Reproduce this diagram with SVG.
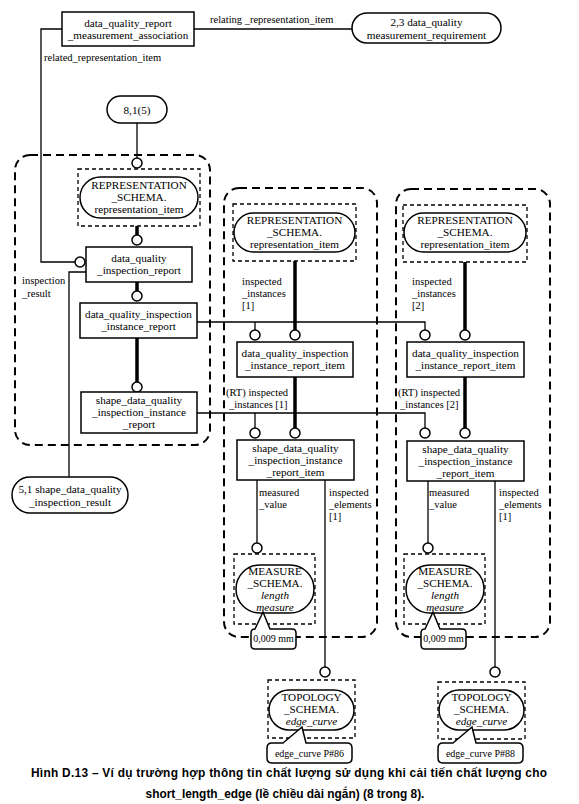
<svg xmlns="http://www.w3.org/2000/svg" width="579" height="804" viewBox="0 0 579 804">
<style>
text{font-family:"Liberation Serif","Times New Roman",serif;fill:#000}
.n{font-size:11.2px;text-anchor:middle}
.l{font-size:10.5px}
.s{font-size:10px;text-anchor:middle}
.i{font-style:italic}
.box{fill:#fff;stroke:#000;stroke-width:1.5}
.grp{fill:none;stroke:#000;stroke-width:2;stroke-dasharray:8 5}
.sch{fill:none;stroke:#000;stroke-width:1.3;stroke-dasharray:4 3}
.ln{fill:none;stroke:#000;stroke-width:1.3}
.th{fill:none;stroke:#000;stroke-width:3.5}
.c{fill:#fff;stroke:#000;stroke-width:1.5}
.cap{font-family:"Liberation Sans",Arial,sans-serif;font-weight:bold;font-size:11.9px;text-anchor:middle}
</style>

<g id="groups">
<rect class="grp" x="15" y="155" width="195" height="290" rx="15"/>
<rect class="grp" x="224" y="188" width="153" height="449" rx="15"/>
<rect class="grp" x="396" y="189" width="154" height="448" rx="15"/>
</g>

<g id="connectors">
<line class="ln" x1="194" y1="29" x2="352" y2="29"/>
<polyline class="ln" points="62,29 41,29 41,262 75,262"/>
<line class="ln" x1="137" y1="123" x2="137" y2="158"/>
<line class="th" x1="137" y1="226" x2="137" y2="235"/>
<line class="th" x1="137" y1="282" x2="137" y2="291"/>
<line class="th" x1="137" y1="338" x2="137" y2="382"/>
<polyline class="ln" points="86,272 69,272 69,477"/>
<polyline class="ln" points="197,322 425,322 425,330"/>
<line class="ln" x1="255" y1="322" x2="255" y2="330"/>
<polyline class="ln" points="197,413 425,413 425,428"/>
<line class="ln" x1="255" y1="413" x2="255" y2="428"/>
<line class="th" x1="295" y1="261" x2="295" y2="330"/>
<line class="th" x1="295" y1="377" x2="295" y2="428"/>
<line class="th" x1="465" y1="262" x2="465" y2="330"/>
<line class="th" x1="465" y1="377" x2="465" y2="428"/>
<line class="ln" x1="257" y1="480" x2="257" y2="543"/>
<line class="ln" x1="325" y1="480" x2="325" y2="667"/>
<line class="ln" x1="428" y1="481" x2="428" y2="543"/>
<line class="ln" x1="495" y1="481" x2="495" y2="667"/>
<circle class="c" cx="137" cy="163" r="5"/>
<circle class="c" cx="137" cy="240" r="5"/>
<circle class="c" cx="80" cy="262" r="5"/>
<circle class="c" cx="137" cy="296" r="5"/>
<circle class="c" cx="137" cy="387" r="5"/>
<circle class="c" cx="255" cy="335" r="5"/>
<circle class="c" cx="295" cy="335" r="5"/>
<circle class="c" cx="425" cy="335" r="5"/>
<circle class="c" cx="465" cy="335" r="5"/>
<circle class="c" cx="255" cy="433" r="5"/>
<circle class="c" cx="295" cy="433" r="5"/>
<circle class="c" cx="425" cy="433" r="5"/>
<circle class="c" cx="465" cy="433" r="5"/>
<circle class="c" cx="257" cy="548" r="5"/>
<circle class="c" cx="428" cy="548" r="5"/>
<circle class="c" cx="325" cy="672" r="5"/>
<circle class="c" cx="495" cy="672" r="5"/>
<text class="l" x="210" y="23">relating _representation_item</text>
<text class="l" x="44" y="61">related_representation_item</text>
<text class="l" x="22" y="284">inspection</text>
<text class="l" x="22" y="297">_result</text>
<text class="l" x="242" y="285">inspected</text>
<text class="l" x="242" y="297">_instances</text>
<text class="l" x="242" y="309">[1]</text>
<text class="l" x="412" y="285">inspected</text>
<text class="l" x="412" y="297">_instances</text>
<text class="l" x="412" y="309">[2]</text>
<text class="l" x="226" y="396">(RT) inspected</text>
<text class="l" x="229" y="408">_instances [1]</text>
<text class="l" x="398" y="396">(RT) inspected</text>
<text class="l" x="400" y="408">_instances [2]</text>
<text class="l" x="259" y="496">measured</text>
<text class="l" x="259" y="508">_value</text>
<text class="l" x="329" y="496">inspected</text>
<text class="l" x="329" y="508">_elements</text>
<text class="l" x="329" y="520">[1]</text>
<text class="l" x="429" y="496">measured</text>
<text class="l" x="429" y="508">_value</text>
<text class="l" x="499" y="496">inspected</text>
<text class="l" x="499" y="508">_elements</text>
<text class="l" x="499" y="520">[1]</text>
</g>

<g id="dq_report_measurement_association">
<rect class="box" x="62" y="12" width="132" height="34"/>
<text class="n" x="128" y="27">data_quality_report</text>
<text class="n" x="128" y="39">_measurement_association</text>
</g>

<g id="dq_measurement_requirement">
<rect class="box" x="352" y="13" width="149" height="30" rx="15"/>
<text class="n" x="426.5" y="26">2,3 data_quality</text>
<text class="n" x="426.5" y="39">measurement_requirement</text>
</g>

<g id="ref_8_1_5">
<rect class="box" x="107" y="96" width="60" height="27" rx="13.5"/>
<text class="n" x="137" y="114">8,1(5)</text>
</g>

<g id="rep_item_1">
<rect class="sch" x="78" y="169" width="122" height="57"/>
<rect class="box" x="80" y="177" width="118" height="41" rx="20.5"/>
<text class="n" x="139" y="189">REPRESENTATION</text>
<text class="n" x="139" y="201">_SCHEMA.</text>
<text class="n" x="139" y="213">representation_item</text>
</g>

<g id="dq_inspection_report">
<rect class="box" x="86" y="247" width="106" height="35"/>
<text class="n" x="139" y="262">data_quality</text>
<text class="n" x="139" y="274">_inspection_report</text>
</g>

<g id="dq_inspection_instance_report">
<rect class="box" x="80" y="303" width="117" height="35"/>
<text class="n" x="138.5" y="318">data_quality_inspection</text>
<text class="n" x="138.5" y="330">_instance_report</text>
</g>

<g id="shape_dq_inspection_instance_report">
<rect class="box" x="81" y="392" width="116" height="41"/>
<text class="n" x="139" y="404">shape_data_quality</text>
<text class="n" x="139" y="416">_inspection_instance</text>
<text class="n" x="139" y="428">_report</text>
</g>

<g id="shape_dq_inspection_result">
<rect class="box" x="12" y="477" width="116" height="36" rx="18"/>
<text class="n" x="70" y="493">5,1 shape_data_quality</text>
<text class="n" x="70" y="506">_inspection_result</text>
</g>

<g id="rep_item_2">
<rect class="sch" x="233" y="204" width="123" height="57"/>
<rect class="box" x="234" y="213" width="121" height="39" rx="19.5"/>
<text class="n" x="294.5" y="224">REPRESENTATION</text>
<text class="n" x="294.5" y="236">_SCHEMA.</text>
<text class="n" x="294.5" y="248">representation_item</text>
</g>

<g id="dq_item_1">
<rect class="box" x="237" y="342" width="116" height="35"/>
<text class="n" x="295" y="357">data_quality_inspection</text>
<text class="n" x="295" y="369">_instance_report_item</text>
</g>

<g id="shape_dq_item_1">
<rect class="box" x="237" y="440" width="117" height="40"/>
<text class="n" x="295.5" y="452">shape_data_quality</text>
<text class="n" x="295.5" y="464">_inspection_instance</text>
<text class="n" x="295.5" y="476">_report_item</text>
</g>

<g id="length_measure_1">
<rect class="sch" x="234" y="554" width="81" height="70"/>
<rect class="box" x="236" y="565" width="78" height="48" rx="24"/>
<text class="n" x="275" y="575">MEASURE</text>
<text class="n" x="275" y="587">_SCHEMA.</text>
<text class="n i" x="275" y="599">length</text>
<text class="n i" x="275" y="611">measure</text>
<path class="box" d="M255,629 L263,612 L270,629 L292,629 Q296,629 296,633 L296,645 Q296,649 292,649 L255,649 Q251,649 251,645 L251,633 Q251,629 255,629 Z"/>
<text class="s" x="273.5" y="642">0,009 mm</text>
</g>

<g id="rep_item_3">
<rect class="sch" x="403" y="205" width="124" height="57"/>
<rect class="box" x="404" y="213" width="122" height="39" rx="19.5"/>
<text class="n" x="465" y="224">REPRESENTATION</text>
<text class="n" x="465" y="236">_SCHEMA.</text>
<text class="n" x="465" y="248">representation_item</text>
</g>

<g id="dq_item_2">
<rect class="box" x="407" y="342" width="117" height="35"/>
<text class="n" x="465.5" y="357">data_quality_inspection</text>
<text class="n" x="465.5" y="369">_instance_report_item</text>
</g>

<g id="shape_dq_item_2">
<rect class="box" x="407" y="441" width="117" height="40"/>
<text class="n" x="465.5" y="453">shape_data_quality</text>
<text class="n" x="465.5" y="465">_inspection_instance</text>
<text class="n" x="465.5" y="477">_report_item</text>
</g>

<g id="length_measure_2">
<rect class="sch" x="404" y="554" width="81" height="70"/>
<rect class="box" x="406" y="565" width="78" height="48" rx="24"/>
<text class="n" x="445" y="575">MEASURE</text>
<text class="n" x="445" y="587">_SCHEMA.</text>
<text class="n i" x="445" y="599">length</text>
<text class="n i" x="445" y="611">measure</text>
<path class="box" d="M425,629 L433,612 L440,629 L462,629 Q466,629 466,633 L466,645 Q466,649 462,649 L425,649 Q421,649 421,645 L421,633 Q421,629 425,629 Z"/>
<text class="s" x="443.5" y="642">0,009 mm</text>
</g>

<g id="edge_curve_86">
<rect class="sch" x="268" y="680" width="87" height="58"/>
<rect class="box" x="269" y="690" width="85" height="40" rx="20"/>
<text class="n" x="311.5" y="701">TOPOLOGY</text>
<text class="n" x="311.5" y="713">_SCHEMA.</text>
<text class="n i" x="311.5" y="725">edge_curve</text>
<path class="box" d="M283,743 L302,727 L306,743 L347,743 Q352,743 352,748 L352,758 Q352,763 347,763 L272,763 Q267,763 267,758 L267,748 Q267,743 272,743 Z"/>
<text class="s" x="309.5" y="757">edge_curve P#86</text>
</g>

<g id="edge_curve_88">
<rect class="sch" x="438" y="682" width="87" height="57"/>
<rect class="box" x="439" y="690" width="85" height="40" rx="20"/>
<text class="n" x="481.5" y="701">TOPOLOGY</text>
<text class="n" x="481.5" y="713">_SCHEMA.</text>
<text class="n i" x="481.5" y="725">edge_curve</text>
<path class="box" d="M453,743 L472,727 L476,743 L518,743 Q523,743 523,748 L523,758 Q523,763 518,763 L443,763 Q438,763 438,758 L438,748 Q438,743 443,743 Z"/>
<text class="s" x="480.5" y="757">edge_curve P#88</text>
</g>

<g id="caption">
<text class="cap" x="289" y="777" textLength="516" lengthAdjust="spacing">Hình D.13 – Ví dụ trường hợp thông tin chất lượng sử dụng khi cải tiến chất lượng cho</text>
<text class="cap" x="285" y="798">short_length_edge (lề chiều dài ngắn) (8 trong 8).</text>
</g>
</svg>
